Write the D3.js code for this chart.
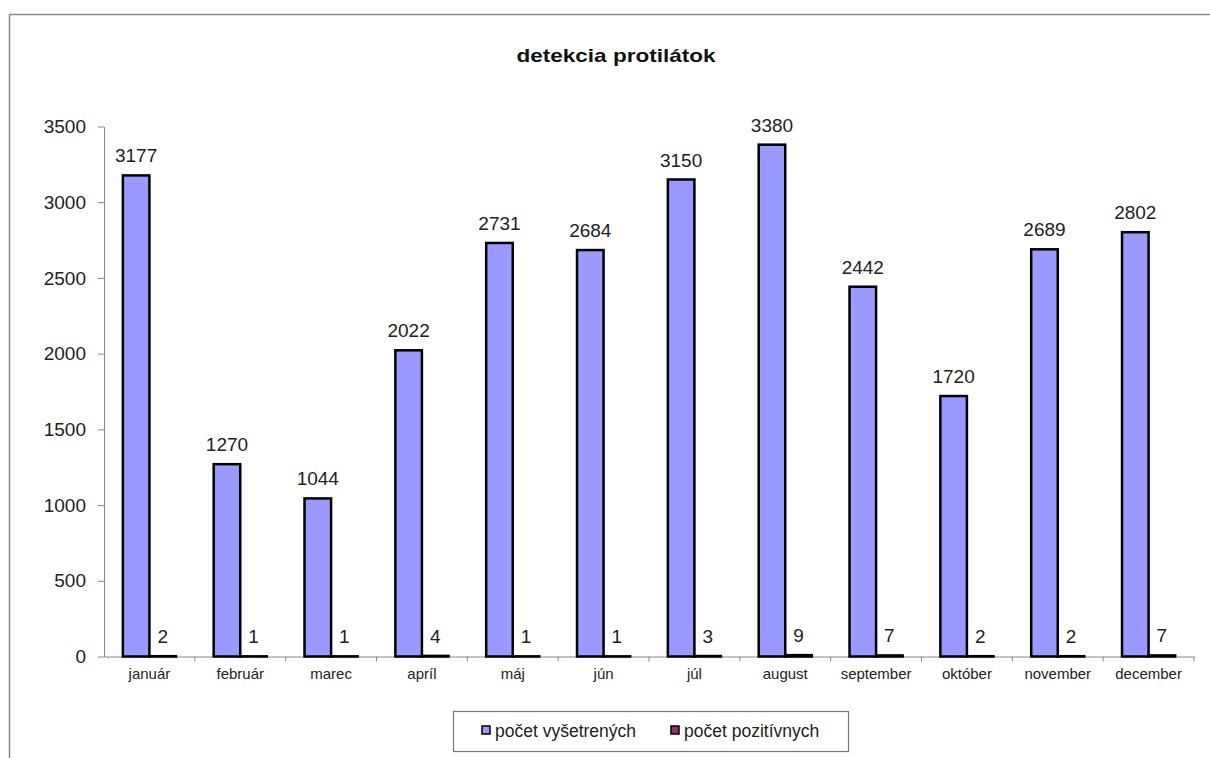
<!DOCTYPE html>
<html><head><meta charset="utf-8">
<script src="https://cdn.jsdelivr.net/npm/d3@7"></script>
<style>
body{margin:0;background:#fff;}
svg{display:block;font-family:"Liberation Sans",Arial,sans-serif;}
</style></head>
<body>
<svg id="c" width="1210" height="758"></svg>
<script>
const months = ["január","február","marec","apríl","máj","jún","júl","august","september","október","november","december"];
const examined = [3177,1270,1044,2022,2731,2684,3150,3380,2442,1720,2689,2802];
const positive = [2,1,1,4,1,1,3,9,7,2,2,7];
const seriesNames = ["počet vyšetrených","počet pozitívnych"];
const seriesColors = ["#9999FF","#993366"];
const yTicks = [0,500,1000,1500,2000,2500,3000,3500];
const title = "detekcia protilátok";

const svg = d3.select("#c");

svg.append("rect").attr("x",9.5).attr("y",14.5).attr("width",1300).attr("height",900)
  .attr("fill","#fff").attr("stroke","#8a8a8a").attr("stroke-width",1.5);

const x = d3.scaleBand().domain(months).range([104,1194]).paddingInner(0).paddingOuter(0);
const x1 = d3.scaleBand().domain([0,1]).range([0,x.bandwidth()]).paddingInner(0).paddingOuter(0.71);
const y = d3.scaleLinear().domain([0,3500]).range([656.5,126.5]);

svg.append("text").attr("x",616).attr("y",62).attr("text-anchor","middle")
  .attr("font-size",19).attr("font-weight","bold").attr("fill","#111")
  .attr("textLength",199).attr("lengthAdjust","spacingAndGlyphs").text(title);

// y axis
const yAxis = svg.append("g").attr("transform","translate(104,0)")
  .call(d3.axisLeft(y).tickValues(yTicks).tickFormat(d3.format("d")).tickSize(6).tickSizeOuter(0).tickPadding(12));
yAxis.select(".domain").attr("stroke","#888");
yAxis.selectAll(".tick line").attr("stroke","#888");
yAxis.selectAll(".tick text").attr("font-size",19).attr("fill","#222").attr("font-family","Liberation Sans, Arial, sans-serif");

// x axis
const xAxis = svg.append("g").attr("transform","translate(0,656.5)")
  .call(d3.axisBottom(x).tickSize(0).tickSizeOuter(0).tickPadding(12));
xAxis.select(".domain").attr("stroke","#888");
xAxis.selectAll(".tick text").attr("font-size",15).attr("fill","#222").attr("font-family","Liberation Sans, Arial, sans-serif");
const bounds = months.map(m=>x(m)).concat([x(months[months.length-1])+x.bandwidth()]);
svg.append("g").selectAll("line").data(bounds.slice(1)).join("line")
  .attr("x1",d=>d).attr("x2",d=>d).attr("y1",656.5).attr("y2",661.5)
  .attr("stroke","#888");

// bars
const data = months.map((m,i)=>({m, vals:[examined[i],positive[i]]}));
const groups = svg.append("g").selectAll("g").data(data).join("g")
  .attr("transform",d=>`translate(${x(d.m)},0)`);
groups.selectAll("rect").data(d=>d.vals.map((v,k)=>({v,k}))).join("rect")
  .attr("x",d=>x1(d.k)).attr("width",x1.bandwidth())
  .attr("y",d=>y(d.v)).attr("height",d=>y(0)-y(d.v))
  .attr("fill",d=>seriesColors[d.k]).attr("stroke","#000").attr("stroke-width",2.5);
groups.selectAll("text").data(d=>d.vals.map((v,k)=>({v,k}))).join("text")
  .attr("x",d=>x1(d.k)+x1.bandwidth()/2).attr("y",d=>y(d.v)-13)
  .attr("text-anchor","middle").attr("font-size",19).attr("fill","#222").text(d=>d.v);

// legend
const lg = svg.append("g");
lg.append("rect").attr("x",453.5).attr("y",711.5).attr("width",395).attr("height",40)
  .attr("fill","#fff").attr("stroke","#777").attr("stroke-width",1.2);
const legX = [482,671];
seriesNames.forEach((n,k)=>{
  lg.append("rect").attr("x",legX[k]).attr("y",726).attr("width",8).attr("height",8)
    .attr("fill",seriesColors[k]).attr("stroke","#000").attr("stroke-width",1.5);
  lg.append("text").attr("x",legX[k]+13).attr("y",737).attr("font-size",17.5).attr("fill","#222").text(n);
});
</script>
</body></html>
